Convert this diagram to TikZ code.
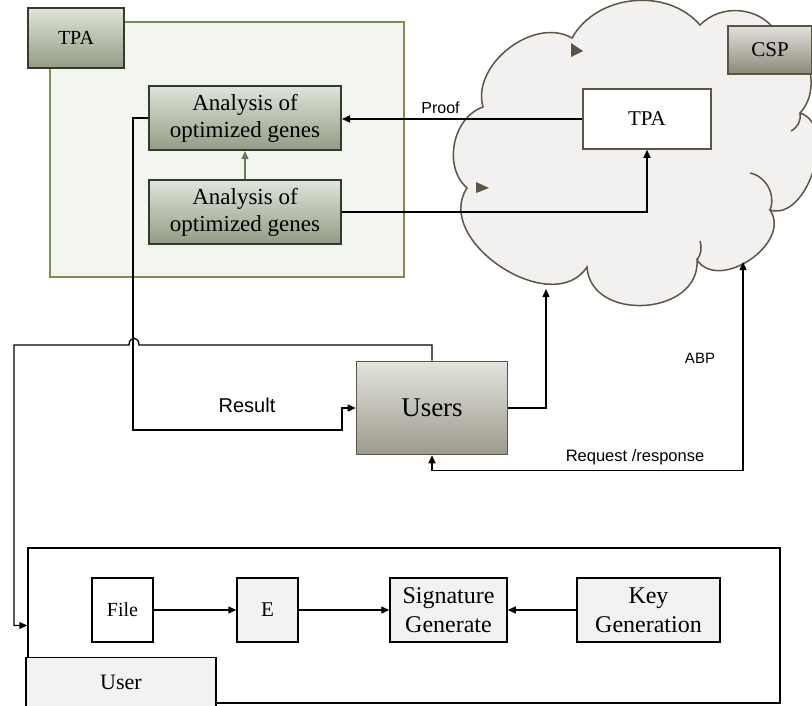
\documentclass[tikz,border=0pt]{standalone}
\usepackage{fontspec}
\setmainfont{Liberation Serif}
\setsansfont{Liberation Sans}
\usetikzlibrary{arrows.meta, positioning, calc}
\definecolor{olivebox}{RGB}{122,144,80}
\definecolor{palegreen}{RGB}{243,245,240}
\definecolor{darkolive}{RGB}{53,59,44}
\definecolor{greentop}{RGB}{224,228,218}
\definecolor{greenbot}{RGB}{146,156,132}
\definecolor{arrowgreen}{RGB}{107,124,85}
\definecolor{cloudline}{RGB}{90,85,69}
\definecolor{cloudfill}{RGB}{242,241,240}
\definecolor{greyfill}{RGB}{242,242,242}
\definecolor{usertop}{RGB}{228,228,222}
\definecolor{userbot}{RGB}{156,153,140}
\definecolor{csptop}{RGB}{226,225,220}
\definecolor{cspbot}{RGB}{139,135,121}

\begin{document}
\begin{tikzpicture}[x=1pt, y=-1pt, line width=1.3pt,
    >={Triangle[length=8pt,width=7pt]},
    shadebox/.style={draw=darkolive, line width=2pt, top color=greentop, bottom color=greenbot, align=center, inner sep=0pt, font=\fontsize{23}{27}\selectfont},
    greybox/.style={draw=cloudline, line width=1.6pt, align=center, inner sep=0pt},
    plainbox/.style={draw, line width=1.5pt, align=center, inner sep=0pt, minimum height=64pt},
    lbl/.style={font=\sffamily\fontsize{16}{18}\selectfont, inner sep=0pt}]
    \useasboundingbox (0,0) rectangle (812,705);

    \filldraw[cloudline, fill=cloudfill, line width=1.5pt] (483,107) to[bend left=68] (572,38) to[bend left=55] (700,25)
        to[bend left=50] (775,30) to[bend left=60] (800,113) to[bend left=90] (770,210) to[bend left=90, looseness=1.15] (697,260)
        to[bend left=90, looseness=1.3] (587,267) to[bend left=90, looseness=1.12] (467,188) to[bend left=60] (483,107) -- cycle;
    \draw[cloudline, line width=1.5pt] (750,173) to[bend left=50] (770,210);
    \draw[cloudline, line width=1.5pt] (700,241) to[bend left=25] (697,260);
    \draw[cloudline, line width=1.5pt] (791,131) to[bend right=35] (800,113);
    \fill[cloudline] (571,43) -- (583,51) -- (571,57) -- cycle;
    \fill[cloudline] (476,182) -- (489,188) -- (476,193) -- cycle;

    \draw[olivebox, fill=palegreen, line width=1.3pt] (50,22) rectangle (404,277);
    \node[shadebox, minimum width=96pt, minimum height=60pt, font=\fontsize{20}{24}\selectfont] (tpahead) at (76,38) {TPA};
    \node[shadebox, minimum width=192pt, minimum height=64pt] (anaA) at (245,118) {Analysis of\\optimized genes};
    \node[shadebox, minimum width=192pt, minimum height=64pt] (anaB) at (245,212) {Analysis of\\optimized genes};

    \node[greybox, fill=white, minimum width=128pt, minimum height=60pt, font=\fontsize{21}{25}\selectfont] (ctpa) at (647,119) {TPA};
    \node[greybox, top color=csptop, bottom color=cspbot, minimum width=84pt, minimum height=48pt, font=\fontsize{21}{25}\selectfont] (csp) at (770,50) {CSP};
    \node[greybox, top color=usertop, bottom color=userbot, minimum width=151pt, minimum height=93pt, font=\fontsize{27}{30}\selectfont] (users) at (432,408) {Users};

    \coordinate (cloudbl) at (546,289);
    \coordinate (cloudbr) at (743,262);

    \node[draw, line width=1.5pt, minimum width=752pt, minimum height=155pt, inner sep=0pt] (userframe) at (404,625.5) {};
    \node[draw, line width=1.5pt, fill=greyfill, minimum width=190pt, minimum height=49pt, inner sep=0pt, font=\fontsize{22}{26}\selectfont] (usertab) at (121,682) {User};
    \foreach \name/\x/\w/\col/\fs/\txt in {file/122.5/61/white/20/File, enc/267.5/61/greyfill/21/E, sign/448.5/117/greyfill/24/{Signature\\Generate}, keygen/648.5/143/greyfill/24/{Key\\Generation}}
    {
        \node[plainbox, fill=\col, minimum width=\w pt, font=\fontsize{\fs}{29}\selectfont] (\name) at (\x,610) {\txt};
    }

    \draw[->, arrowgreen, line width=1.5pt] (anaB.north) -- (anaA.south);
    \draw[->] (ctpa.west) -- (ctpa.west -| anaA.east) node[lbl, above=5pt, pos=0.59] (proof) {Proof};
    \draw[->] (anaB.east) -| (ctpa.south);
    \draw[->] (anaA.west) -- ++(-15,0) |- ++(209,312) |- (users.west);
    \draw[->] (users.north) |- (139,345) .. controls (139,336) and (129,336) .. (129,345) -- (14,345) |- (userframe.west);
    \draw[->] (users.east) -| (cloudbl);
    \draw[<->] (users.south) -- ++(0,15) -| (cloudbr);
    \draw[->] (file) -- (enc);
    \draw[->] (enc) -- (sign);
    \draw[->] (keygen) -- (sign);

    \node[lbl, font=\sffamily\fontsize{20}{22}\selectfont] (result) at (247,405) {Result};
    \node[lbl, font=\sffamily\fontsize{15}{18}\selectfont] (abp) at (700,358) {ABP};
    \node[lbl, font=\sffamily\fontsize{16.5}{18}\selectfont] (reqres) at (635,457) {Request /response};
\end{tikzpicture}
\end{document}
